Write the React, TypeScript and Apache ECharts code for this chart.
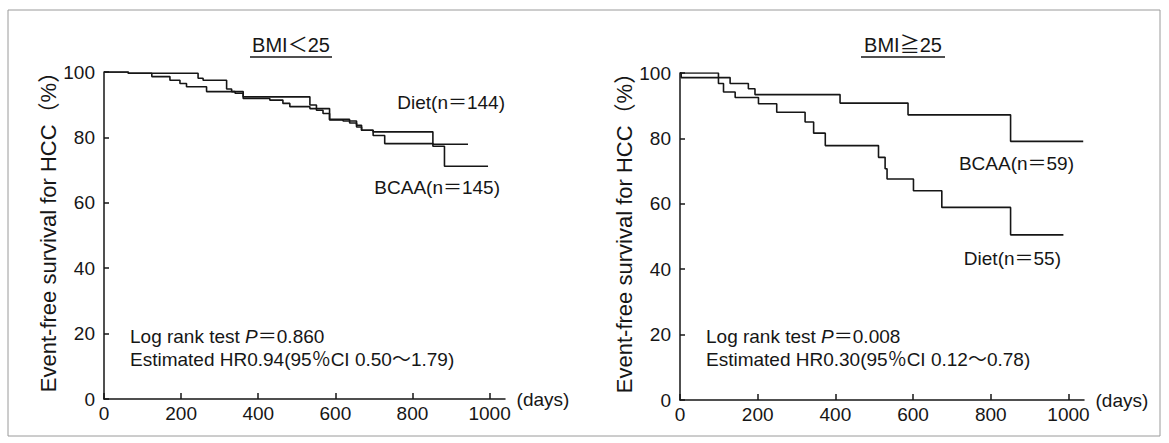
import React, { useEffect, useRef } from 'react';
import * as echarts from 'echarts';

// ---- Data ----
const xTicks = [0, 200, 400, 600, 800, 1000];
const yTicks = [0, 20, 40, 60, 80, 100];

const panelTitles = ['BMI＜25', 'BMI≧25'];

// BMI < 25 : [day, event-free survival %]
const leftDiet = [
  [0, 100], [63, 99.6], [244, 98.1], [257, 97.5], [318, 94.8], [331, 94.0],
  [361, 92.4], [534, 89.9], [551, 88.3], [568, 87.3], [585, 85.5], [637, 84.4],
  [655, 83.2], [668, 82.2], [698, 81.7], [853, 77.9], [944, 77.9],
];
const leftBCAA = [
  [0, 100], [63, 99.6], [124, 98.6], [171, 97.5], [197, 96.5], [214, 95.5],
  [266, 94.0], [340, 93.5], [361, 91.9], [430, 91.4], [464, 90.4], [482, 89.4],
  [534, 88.8], [585, 85.3], [620, 85.0], [655, 83.7], [668, 82.2], [698, 80.6],
  [728, 78.1], [853, 77.3], [883, 71.2], [996, 71.2],
];

// BMI >= 25
const rightBCAA = [
  [0, 100], [99, 98.6], [129, 96.8], [176, 95.2], [193, 93.4], [412, 90.8],
  [587, 87.2], [851, 79.1], [1038, 79.1],
];
const rightDiet = [
  [0, 100], [3, 98.6], [99, 96.8], [112, 94.2], [142, 92.5], [202, 90.6],
  [249, 88.0], [322, 85.0], [344, 81.6], [374, 77.8], [511, 74.2], [528, 70.7],
  [533, 67.6], [601, 64.0], [674, 58.9], [851, 50.5], [987, 50.5],
];

const groupLabels = {
  left: { diet: 'Diet(n＝144)', bcaa: 'BCAA(n＝145)' },
  right: { diet: 'Diet(n＝55)', bcaa: 'BCAA(n＝59)' },
};
const stats = {
  left: { p: '＝0.860', hr: 'Estimated HR0.94(95％CI 0.50～1.79)' },
  right: { p: '＝0.008', hr: 'Estimated HR0.30(95％CI 0.12～0.78)' },
};

const FONT = '"Liberation Sans", Arial, Helvetica, "Noto Sans CJK JP", sans-serif';
const INK = '#161616';
const FS = 19;

function xAxisFor(gridIndex: number) {
  return {
    type: 'value',
    gridIndex,
    min: 0,
    max: 1040,
    interval: 200,
    axisLine: { show: true, lineStyle: { color: INK, width: 1.5 } },
    axisTick: { show: true, inside: true, length: 6, customValues: xTicks, lineStyle: { color: INK, width: 1.5 } },
    axisLabel: {
      customValues: xTicks,
      fontSize: FS,
      color: INK,
      fontFamily: FONT,
      margin: 5,
      formatter: (v: number) => String(v),
    },
    splitLine: { show: false },
    name: '(days)',
    nameLocation: 'end',
    nameGap: 8,
    nameTextStyle: { fontSize: FS, color: INK, fontFamily: FONT, padding: [26, 0, 0, 0] },
  };
}

function yAxisFor(gridIndex: number) {
  return {
    type: 'value',
    gridIndex,
    min: 0,
    max: 100,
    interval: 20,
    axisLine: { show: true, lineStyle: { color: INK, width: 1.5 } },
    axisTick: { show: true, inside: true, length: 5, customValues: yTicks, lineStyle: { color: INK, width: 1.5 } },
    axisLabel: { fontSize: FS, color: INK, fontFamily: FONT, margin: 9 },
    splitLine: { show: false },
    name: 'Event-free survival for HCC（%）',
    nameLocation: 'middle',
    nameRotate: 90,
    nameGap: 44,
    nameTextStyle: { fontSize: 22, color: INK, fontFamily: FONT, padding: [0, 0, 0, 18] },
  };
}

function kmSeries(name: string, data: number[][], idx: number) {
  return {
    type: 'line',
    name,
    xAxisIndex: idx,
    yAxisIndex: idx,
    step: 'end',
    symbol: 'none',
    data,
    lineStyle: { color: INK, width: 1.6 },
    silent: true,
  };
}

function txt(x: number, y: number, text: string, extra: any = {}) {
  return {
    type: 'text',
    x,
    y,
    silent: true,
    style: {
      text,
      fill: INK,
      font: `${FS}px ${FONT}`,
      textVerticalAlign: 'middle',
      ...extra,
    },
  };
}

function statText(x: number, y: number, p: string) {
  return {
    type: 'text',
    x,
    y,
    silent: true,
    style: {
      text: `{a|Log rank test }{i|P}{a|${p}}`,
      fill: INK,
      textVerticalAlign: 'middle',
      rich: {
        a: { fontSize: FS, fontFamily: FONT, fill: INK },
        i: { fontSize: FS, fontFamily: FONT, fontStyle: 'italic', fill: INK },
      },
    },
  };
}

export default function App() {
  const ref = useRef<HTMLDivElement>(null);

  useEffect(() => {
    document.body.style.margin = '0';
    if (!ref.current) return;
    const chart = echarts.init(ref.current, null, { renderer: 'svg' });
    chart.setOption({
      animation: false,
      backgroundColor: '#ffffff',
      textStyle: { fontFamily: FONT },
      grid: [
        { left: 104, top: 72, width: 401, height: 327 },
        { left: 680, top: 73, width: 404, height: 327 },
      ],
      xAxis: [xAxisFor(0), xAxisFor(1)],
      yAxis: [yAxisFor(0), yAxisFor(1)],
      series: [
        kmSeries('Diet', leftDiet, 0),
        kmSeries('BCAA', leftBCAA, 0),
        kmSeries('BCAA', rightBCAA, 1),
        kmSeries('Diet', rightDiet, 1),
      ],
      graphic: [
        // frame
        { type: 'rect', shape: { x: 8, y: 10, width: 1152, height: 426 }, style: { fill: 'none', stroke: '#9a9a9a', lineWidth: 1 }, silent: true },
        // titles
        txt(291, 45, panelTitles[0], { textAlign: 'center', font: `20px ${FONT}` }),
        { type: 'line', shape: { x1: 250, y1: 57, x2: 332, y2: 57 }, style: { stroke: INK, lineWidth: 1.5 }, silent: true },
        txt(903, 45, panelTitles[1], { textAlign: 'center', font: `20px ${FONT}` }),
        { type: 'line', shape: { x1: 861, y1: 57, x2: 945, y2: 57 }, style: { stroke: INK, lineWidth: 1.5 }, silent: true },
        // left panel labels
        txt(505, 102, groupLabels.left.diet, { textAlign: 'right' }),
        txt(500, 187, groupLabels.left.bcaa, { textAlign: 'right' }),
        statText(130, 336, stats.left.p),
        txt(130, 359, stats.left.hr),
        // right panel labels
        txt(1074, 163, groupLabels.right.bcaa, { textAlign: 'right' }),
        txt(1061, 258, groupLabels.right.diet, { textAlign: 'right' }),
        statText(706, 336, stats.right.p),
        txt(706, 359, stats.right.hr),
      ],
    });
    return () => chart.dispose();
  }, []);

  return <div ref={ref} style={{ width: 1169, height: 443 }} />;
}
